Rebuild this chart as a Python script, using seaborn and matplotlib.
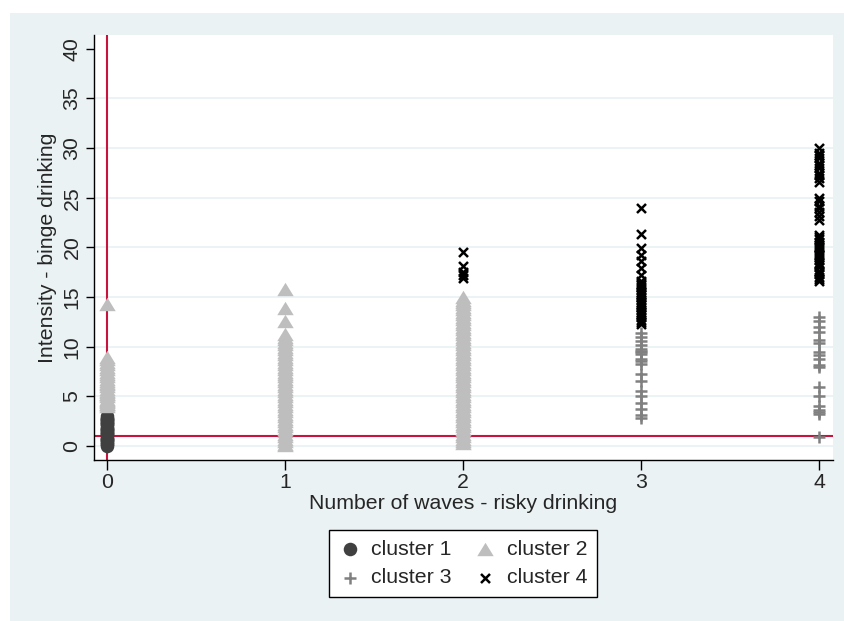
import matplotlib
matplotlib.use("Agg")
import matplotlib.pyplot as plt
from matplotlib.patches import Rectangle
import pandas as pd
import seaborn as sns

# ---- data: (waves of risky drinking, binge-drinking intensity) per cluster ----
c1_x0 = [0.0, 0.2, 0.25, 0.4, 0.5, 0.6, 0.67, 0.75, 0.8, 1.0, 1.2, 1.25,
         1.33, 1.4, 1.5, 1.6, 1.67, 1.75, 1.8, 2.0, 2.2, 2.25, 2.33, 2.4,
         2.5, 2.6, 2.67, 2.75, 2.8, 3.0]

c2_x0 = [4.0, 4.2, 4.25, 4.4, 4.5, 4.6, 4.75, 5.0, 5.2, 5.25, 5.4, 5.5,
         5.75, 6.0, 6.2, 6.33, 6.5, 6.75, 7.0, 7.25, 7.5, 7.75, 8.0, 8.25,
         8.5, 8.75, 9.0, 14.33]
c2_x1 = [0.1, 0.25, 0.5, 0.75, 1.0, 1.25, 1.5, 1.75, 2.0, 2.25, 2.5, 2.75,
         3.0, 3.25, 3.5, 3.75, 4.0, 4.25, 4.5, 4.75, 5.0, 5.25, 5.5, 5.75,
         6.0, 6.25, 6.5, 6.75, 7.0, 7.25, 7.5, 7.75, 8.0, 8.25, 8.5, 8.75,
         9.0, 9.25, 9.5, 9.75, 10.0, 10.25, 10.5, 10.75, 11.0, 11.3, 12.6,
         13.9, 15.8]
c2_x2 = [0.3, 0.5, 0.75, 1.0, 1.25, 1.5, 1.75, 2.0, 2.25, 2.5, 2.75, 3.0,
         3.25, 3.5, 3.75, 4.0, 4.25, 4.5, 4.75, 5.0, 5.25, 5.5, 5.75, 6.0,
         6.25, 6.5, 6.75, 7.0, 7.25, 7.5, 7.75, 8.0, 8.25, 8.5, 8.75, 9.0,
         9.25, 9.5, 9.75, 10.0, 10.25, 10.5, 10.75, 11.0, 11.25, 11.5, 11.75,
         12.0, 12.25, 12.5, 12.75, 13.0, 13.25, 13.5, 13.75, 14.0, 14.25,
         14.5, 14.75, 15.0]

c3_x3 = [2.8, 3.1, 3.7, 4.3, 5.0, 5.5, 6.5, 7.3, 8.3, 8.6, 8.8, 9.3, 9.5,
         9.6, 9.8, 10.2, 10.6, 11.0, 11.4]
c3_x4 = [0.9, 3.2, 3.4, 3.6, 4.0, 5.0, 5.9, 8.0, 8.2, 8.8, 9.2, 9.5, 10.4,
         10.7, 11.5, 12.0, 12.6, 13.0]

c4_x2 = [16.9, 17.2, 17.5, 18.1, 19.5]
c4_x3 = [12.3, 12.5, 12.7, 13.0, 13.2, 13.3, 13.5, 13.7, 14.0, 14.2, 14.3,
         14.5, 14.7, 15.0, 15.2, 15.3, 15.5, 15.7, 16.0, 16.2, 16.3, 16.6,
         17.2, 17.9, 18.6, 19.2, 19.9, 21.3, 24.0]
c4_x4 = [16.6, 16.8, 17.0, 17.3, 17.5, 17.6, 18.0, 18.2, 18.4, 18.7, 19.0,
         19.2, 19.3, 19.6, 19.9, 20.0, 20.2, 20.5, 20.8, 21.0, 21.2, 22.8,
         23.2, 23.6, 24.0, 24.2, 24.7, 25.0, 26.6, 27.0, 27.3, 27.5, 28.0,
         28.3, 28.5, 29.0, 29.3, 29.5, 30.0]

cluster_names = ["cluster 1", "cluster 2", "cluster 3", "cluster 4"]
x_ticks = [0, 1, 2, 3, 4]
y_ticks = [0, 5, 10, 15, 20, 25, 30, 35, 40]
ref_x = 0
ref_y = 1

groups = [
    ("cluster 1", 0, c1_x0),
    ("cluster 2", 0, c2_x0), ("cluster 2", 1, c2_x1), ("cluster 2", 2, c2_x2),
    ("cluster 3", 3, c3_x3), ("cluster 3", 4, c3_x4),
    ("cluster 4", 2, c4_x2), ("cluster 4", 3, c4_x3), ("cluster 4", 4, c4_x4),
]
rows = []
for name, xv, ys in groups:
    for yv in ys:
        rows.append({"cluster": name, "waves": xv, "intensity": yv})
df = pd.DataFrame(rows)

# ---- styling ----
sns.set_theme(style="white")
plt.rcParams["font.family"] = ["Liberation Sans", "DejaVu Sans"]

BG = "#EAF2F3"
RED = "#C8143C"
FS = 15.3

triangle = [(0, 0.53), (-0.65, -0.53), (0.65, -0.53), (0, 0.53)]
styles = {
    "cluster 1": dict(marker="o", color="#404040", s=95, linewidth=0),
    "cluster 2": dict(marker=triangle, color="#BEBEBE", s=140, linewidth=0),
    "cluster 3": dict(marker="+", color="#808080", s=85, linewidth=1.8),
    "cluster 4": dict(marker="x", color="#000000", s=42, linewidth=1.8),
}

W, H = 844, 621
fig = plt.figure(figsize=(W / 100, H / 100), dpi=100, facecolor="white")
fig.patches.append(Rectangle((10 / W, 0), (W - 10) / W, (H - 13) / H,
                             transform=fig.transFigure, facecolor=BG,
                             edgecolor="none", zorder=-10))
ax = fig.add_axes([94 / W, 1 - 460 / H, (833 - 94) / W, (460 - 35) / H])
ax.set_facecolor("white")

for name in cluster_names:
    sub = df[df["cluster"] == name]
    sns.scatterplot(data=sub, x="waves", y="intensity", ax=ax, label=name,
                    legend=False, zorder=3, **styles[name])

# reference lines
ax.axvline(ref_x, color=RED, lw=1.5, zorder=2)
ax.axhline(ref_y, color=RED, lw=1.5, zorder=2)

# horizontal grid
for yv in y_ticks[:-1]:
    ax.axhline(yv, color=BG, lw=1.3, zorder=1)

ax.set_xlim(-0.073, 4.079)
ax.set_ylim(-1.41, 41.39)
ax.set_xticks(x_ticks)
ax.set_yticks(y_ticks)
ax.set_xticklabels([str(v) for v in x_ticks], fontsize=FS)
ax.set_yticklabels([str(v) for v in y_ticks], fontsize=FS, rotation=90,
                   va="center")
ax.tick_params(axis="x", direction="out", length=7, width=1, color="black",
               pad=2, bottom=True)
ax.tick_params(axis="y", direction="out", length=6, width=1, color="black",
               pad=3, left=True)
for side in ["top", "right"]:
    ax.spines[side].set_visible(False)
for side in ["left", "bottom"]:
    ax.spines[side].set_color("black")
    ax.spines[side].set_linewidth(1)

ax.set_xlabel("Number of waves - risky drinking", fontsize=FS, labelpad=2)
ax.set_ylabel("Intensity - binge drinking", fontsize=FS, labelpad=4)

handles, labels = ax.get_legend_handles_labels()
order = [0, 2, 1, 3]
leg = fig.legend([handles[i] for i in order], [labels[i] for i in order],
                 loc="center", bbox_to_anchor=(463 / W, 1 - 563.5 / H),
                 ncol=2, fontsize=FS, frameon=True, fancybox=False,
                 edgecolor="black", facecolor="white", framealpha=1,
                 handlelength=1.0, handletextpad=0.5, columnspacing=1.1,
                 labelspacing=0.45, borderpad=0.45)
leg.get_frame().set_linewidth(1)

fig.savefig("out.png", dpi=100, facecolor=fig.get_facecolor())
